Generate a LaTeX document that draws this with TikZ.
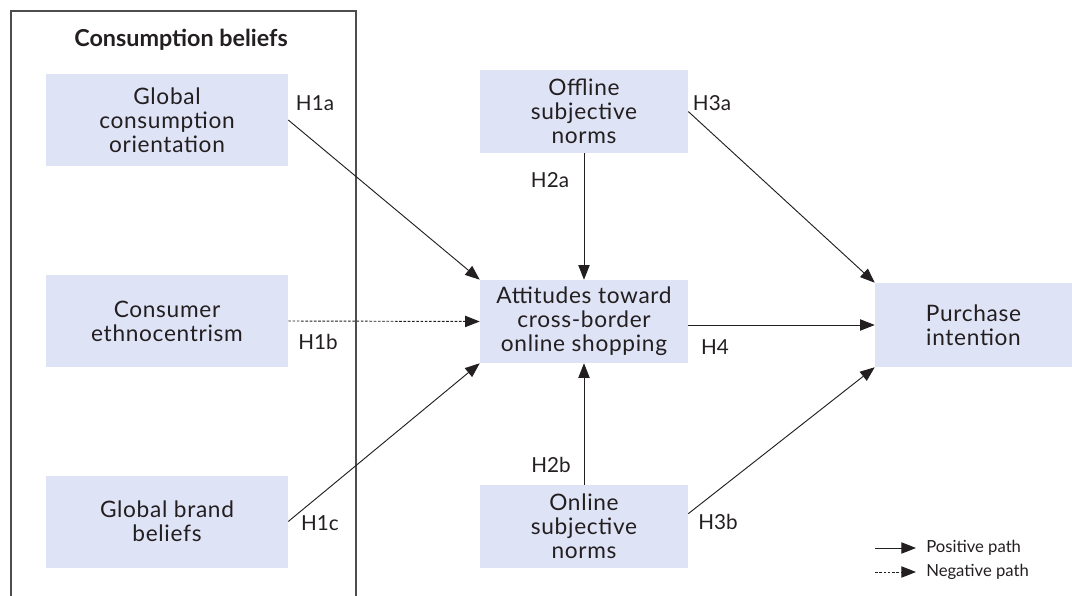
\documentclass[tikz,border=0pt]{standalone}
\usepackage{fontspec}
\setmainfont{Lato}
\newfontfamily\boxfont[LetterSpace=3]{Lato}
\usetikzlibrary{arrows.meta, positioning}

\definecolor{boxfill}{HTML}{DFE3F6}
\definecolor{ink}{HTML}{231F20}

\tikzset{
  factor/.style={fill=boxfill, align=center, inner sep=0pt, text=ink,
    font=\boxfont\fontsize{17}{18}\selectfont},
  belief/.style={factor, minimum width=181.5pt, minimum height=69pt},
  norm/.style={factor, minimum width=156pt, minimum height=62.5pt},
  hyp/.style={text=ink, inner sep=0pt, font=\fontsize{15.5}{18}\selectfont},
  link/.style={-{Triangle[length=11pt,width=8.5pt]}, line width=0.7pt, draw=ink},
  neglink/.style={link, dash pattern=on 2pt off 1.2pt},
}

\begin{document}
\begin{tikzpicture}[x=0.75pt, y=-0.75pt]
\useasboundingbox (0,0) rectangle (1072,596);

% frame around the consumption beliefs
\draw[line width=1.4pt, draw=ink!80] (11,596) -- (11,11) -- (356,11) -- (356,596);
\node[text=ink, font=\fontsize{17.5}{18}\selectfont\bfseries] (title) at (181,40) {Consumption beliefs};

% left column
\node[belief] (gco) at (167,120) {Global\\consumption\\orientation};
\node[belief] (eth) at (167,321) {Consumer\\ethnocentrism};
\node[belief] (gbb) at (167,521.5) {Global brand\\beliefs};

% middle column
\node[norm] (off) at (584,111.5) {Offline\\subjective\\norms};
\node[norm, minimum height=62.25pt] (att) at (584,321.5) {Attitudes toward\\cross-border\\online shopping};
\node[norm] (onl) at (584,526.5) {Online\\subjective\\norms};

% outcome
\node[factor, minimum width=147.75pt, minimum height=63pt] (pur) at (973.5,325) {Purchase\\intention};

% paths
\draw[link] (gco.east) -- (att.north west);
\draw[neglink] (eth.east) -- (att.west);
\draw[link] (gbb.east) -- (att.south west);
\draw[link] (off.south) -- (att.north);
\draw[link] (onl.north) -- (att.south);
\draw[link] (off.east) -- (pur.north west);
\draw[link] (att.east |- pur.west) -- (pur.west);
\draw[link] (onl.7) -- (pur.south west);

% hypothesis labels
\node[hyp] (h1a) at (315,103) {H1a};
\node[hyp] (h1b) at (318,342) {H1b};
\node[hyp] (h1c) at (320,523) {H1c};
\node[hyp] (h2a) at (550,180) {H2a};
\node[hyp] (h2b) at (551,465) {H2b};
\node[hyp] (h3a) at (712,103) {H3a};
\node[hyp] (h4) at (715,347) {H4};
\node[hyp] (h3b) at (718,522) {H3b};

% legend
\coordinate (posa) at (875,548);
\coordinate (posb) at (916,548);
\coordinate (nega) at (875,572);
\coordinate (negb) at (916,572);
\draw[link] (posa) -- (posb);
\draw[neglink] (nega) -- (negb);
\node[right=7.5pt of posb, inner sep=0pt, text=ink, font=\fontsize{12.5}{14}\selectfont] (postxt) {Positive path};
\node[right=7.5pt of negb, inner sep=0pt, text=ink, font=\fontsize{12.5}{14}\selectfont] (negtxt) {Negative path};
\end{tikzpicture}
\end{document}
